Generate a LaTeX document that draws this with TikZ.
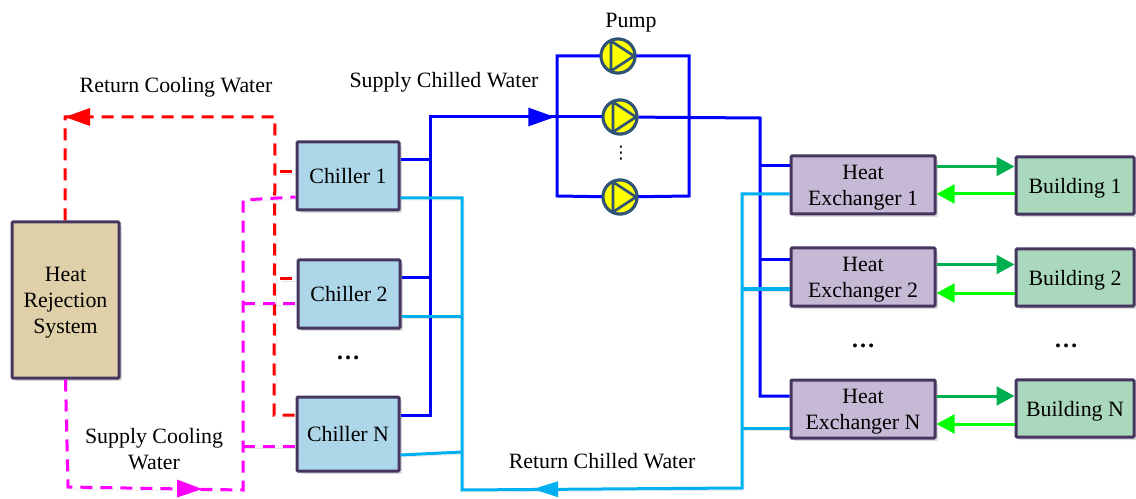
\documentclass[tikz,border=0pt]{standalone}
\usepackage{fontspec}
\setmainfont{Liberation Serif}
\newfontfamily\symfont{DejaVu Sans}
\usetikzlibrary{arrows.meta,shadows,calc}
\definecolor{edgec}{HTML}{46365F}
\definecolor{chillc}{HTML}{ADD6E8}
\definecolor{hxc}{HTML}{C6B9D5}
\definecolor{bldc}{HTML}{A9D8BD}
\definecolor{heatc}{HTML}{DFD0AA}
\definecolor{lblue}{HTML}{00B0F0}
\definecolor{dgreen}{HTML}{00B050}
\definecolor{pumpc}{HTML}{2F5275}
\definecolor{pureblue}{HTML}{0000FF}
\definecolor{puremag}{HTML}{FF00FF}
\definecolor{purered}{HTML}{FF0000}
\definecolor{puregreen}{HTML}{00FF00}
\definecolor{pureyellow}{HTML}{FFFF00}
\tikzset{
  box/.style={draw=edgec,line width=2.25pt,rounded corners=0.8pt,inner sep=0pt,align=center,text depth=0pt,font=\fontsize{16.4}{19.5}\selectfont,
    drop shadow={shadow xshift=2.2pt,shadow yshift=-2.2pt,fill=black,opacity=.14}},
  chiller/.style={box,fill=chillc,minimum width=76.5pt,minimum height=51pt},
  hx/.style={box,fill=hxc,minimum width=108pt,minimum height=43.5pt},
  bld/.style={box,fill=bldc,minimum width=88.5pt,minimum height=43pt},
  lab/.style={font=\fontsize{16.4}{19}\selectfont,inner sep=0pt,align=center,text depth=0pt},
  dots/.style={font=\fontsize{18}{20}\selectfont\bfseries,inner sep=0pt},
  shade/.style={preaction={draw=black,draw opacity=.11,transform canvas={shift={(1.6pt,-1.6pt)}}}},
  pipe/.style={line width=2.25pt,line join=miter},
  supply/.style={pipe,draw=pureblue},
  return/.style={pipe,draw=lblue,shade},
  rdash/.style={line width=2.25pt,draw=purered,dash pattern=on 9pt off 6pt,shade},
  mdash/.style={line width=2.25pt,draw=puremag,dash pattern=on 9pt off 6pt,shade},
  tipb/.style={-{Triangle[length=20pt,width=13.5pt]}},
  tipc/.style={-{Triangle[length=13.5pt,width=14pt]}},
  pump/.style={circle,draw=pumpc,fill=pureyellow,line width=2.25pt,minimum size=25.5pt,inner sep=0pt},
  pumptri/.style={draw=pumpc,line width=2pt,line join=miter},
}
\begin{document}
\begin{tikzpicture}[x=0.75pt,y=-0.75pt]
\useasboundingbox (0,0) rectangle (1136,499);
% boxes
\node[box,fill=heatc,minimum width=80.25pt,minimum height=117pt] (heat) at (65.5,300) {Heat\\Rejection\\System};
\node[chiller] (c1) at (348,176) {Chiller 1};
\node[chiller] (c2) at (349,294) {Chiller 2};
\node[chiller,minimum height=55.5pt] (cn) at (348,434) {Chiller N};
\node[hx] (h1) at (863,185) {Heat\\Exchanger 1};
\node[hx] (h2) at (863,277) {Heat\\Exchanger 2};
\node[hx] (hn) at (863,409) {Heat\\Exchanger N};
\node[bld] (b1) at (1075,185.5) {Building 1};
\node[bld] (b2) at (1075,277.5) {Building 2};
\node[bld] (bn) at (1075,408.5) {Building N};
% pumps
\node[pump] (p1) at (618,56) {};
\node[pump] (p2) at (620,117) {};
\node[pump] (p3) at (620,197) {};
% junction coordinates
\coordinate (rtop) at (275,117);
\coordinate (rl) at (65,117);
\coordinate (r1) at (275,172);
\coordinate (r2) at (275,279);
\coordinate (r3) at (274,415);
\coordinate (m0) at (68,487);
\coordinate (m1) at (243,490);
\coordinate (ma) at (202,489);
\coordinate (mb) at (177,488.5);
\coordinate (mc1) at (243,200);
\coordinate (mc2) at (243,303);
\coordinate (mc3) at (243,446);
\coordinate (s1) at (430,160);
\coordinate (s2) at (430,278);
\coordinate (s3) at (430,415);
\coordinate (stop) at (430,117);
\coordinate (sarr) at (555,117);
\coordinate (bl1) at (557,56);
\coordinate (bl2) at (557,117);
\coordinate (bl3) at (557,196);
\coordinate (br1) at (689,56);
\coordinate (br2) at (689,117);
\coordinate (br3) at (689,196);
\coordinate (dtop) at (760,118);
\coordinate (d1) at (760,166);
\coordinate (d2) at (760,260);
\coordinate (d3) at (760,396);
\coordinate (l1) at (462,198);
\coordinate (l2) at (462,316);
\coordinate (l3) at (462,452);
\coordinate (lb) at (462,490);
\coordinate (lr) at (742,488);
\coordinate (la) at (533,489.2);
\coordinate (u1) at (742,194);
\coordinate (u2) at (742,289);
\coordinate (u3) at (742,428);
% red dashed
\draw[rdash] (heat.north -| rl) -- (rl) -- (rtop) -- (r3) -- (cn.west |- r3);
\draw[rdash] (r1) ++(5,0) -- (c1.west |- r1);
\draw[rdash] (r2) ++(5,0) -- (c2.west |- r2);
\draw[draw=none,fill=purered] (rl) -- ++(25,-9) -- ++(0,18) -- cycle;
% magenta dashed
\draw[mdash] (heat.south) -- (m0) -- (m1) -- (mc1) -- (c1.west |- 0,197);
\draw[mdash] (mc2) -- (c2.west |- mc2);
\draw[mdash] (mc3) -- (cn.west |- mc3);
\draw[draw=none,fill=puremag] (ma) -- ($(mb)+(0,-9)$) -- ($(mb)+(0,9)$) -- cycle;
% supply chilled water
\draw[supply] (c1.east |- s1) -- (s1);
\draw[supply] (c2.east |- s2) -- (s2);
\draw[supply] (cn.east |- s3) -- (s3) -- (stop) -- (bl2);
\draw[supply,tipb] (stop) -- (sarr);
\draw[supply,line cap=round] (p1) -- (bl1) -- (bl3) -- (p3);
\draw[supply] (bl2) -- (p2);
\draw[supply,line cap=round] (p1) -- (br1) -- (br3) -- (p3);
\draw[supply] (p2) -- (dtop) -- (d3) -- (hn.west |- d3);
\draw[supply] (d1) -- (h1.west |- d1);
\draw[supply] (d2) -- (h2.west |- d2);
% return chilled water
\draw[return] (c1.east |- l1) -- (l1) -- (lb) -- (lr) -- (u1) -- (h1.west |- u1);
\draw[return] (c2.east |- l2) -- (l2);
\draw[return] (cn.east |- 0,455) -- (l3);
\draw[return] (u2) -- (h2.west |- u2);
\draw[return] (u3) -- (hn.west |- u3);
\draw[draw=none,fill=lblue] (la) -- ++(25,-8) -- ++(0,16) -- cycle;
% pump bodies above pipes
\foreach \p in {p1,p2,p3}{
  \node[pump] at (\p) {};
  \draw[pumptri] ($(\p)+(-7,-15)$) -- ($(\p)+(16,0)$) -- ($(\p)+(-7,15)$) -- cycle;
}
% building loops
\draw[pipe,draw=dgreen,tipc] (h1.east |- 0,166.5) -- (b1.west |- 0,166.5);
\draw[pipe,draw=puregreen,tipc] (b1.west |- 0,194) -- (h1.east |- 0,194);
\draw[pipe,draw=dgreen,tipc] (h2.east |- 0,264.5) -- (b2.west |- 0,264.5);
\draw[pipe,draw=puregreen,tipc] (b2.west |- 0,293) -- (h2.east |- 0,293);
\draw[pipe,draw=dgreen,tipc] (hn.east |- 0,396) -- (bn.west |- 0,396);
\draw[pipe,draw=puregreen,tipc] (bn.west |- 0,424) -- (hn.east |- 0,424);
% labels
\node[lab] (t1) at (176,85) {Return Cooling Water};
\node[lab] (t2) at (444,80) {Supply Chilled Water};
\node[lab] (t3) at (631,20) {Pump};
\node[lab] (t4) at (154,449) {Supply Cooling\\Water};
\node[lab] (t5) at (602,461) {Return Chilled Water};
\node[dots] (e1) at (348,358) {…};
\node[dots] (e2) at (863,346) {…};
\node[dots] (e3) at (1066,346) {…};
\node[inner sep=0pt,font=\symfont\fontsize{13}{13}\selectfont] (e4) at (621,153.5) {⋮};
\end{tikzpicture}
\end{document}
